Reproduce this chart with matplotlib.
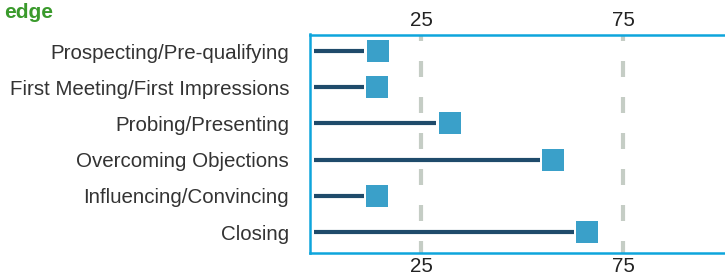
import matplotlib
matplotlib.use("Agg")
import matplotlib.pyplot as plt

categories = [
    "Prospecting/Pre-qualifying",
    "First Meeting/First Impressions",
    "Probing/Presenting",
    "Overcoming Objections",
    "Influencing/Convincing",
    "Closing",
]
values = [14.3, 14.2, 32.1, 57.7, 14.1, 66.2]
tick_values = [25, 75]
title_text = "edge"

plt.rcParams['font.family'] = ['Liberation Sans', 'DejaVu Sans']

W, H = 725, 278
fig = plt.figure(figsize=(W / 100, H / 100), dpi=100)
ax = fig.add_axes([310 / W, 1 - 253 / H, 1 - 310 / W, (253 - 34.5) / H])

x_start = -1.6
gap = 3.3
ys = list(range(len(categories)))

for xv in tick_values:
    ax.axvline(xv, color="#c5cdc5", lw=3, linestyle=(0.96, (3.84, 4.8)), zorder=1)

ax.hlines(ys, x_start, [v - gap for v in values], color="#1f4b6b", lw=3, zorder=2)
ax.scatter(values, ys, marker="s", s=22 * 22 * 0.54, color="#3aa0c9", zorder=3, linewidths=0)

ax.set_xlim(-2.475, 100.25)
ax.set_ylim(5.58, -0.46)
ax.set_yticks(ys)
ax.set_yticklabels(categories, fontsize=14.8, color="#333333")
ax.set_xticks(tick_values)
ax.set_xticklabels([str(t) for t in tick_values], fontsize=14.8, color="#222222")
ax.tick_params(axis="y", length=0, pad=15)
ax.tick_params(axis="x", length=0, pad=3, top=True, labeltop=True, bottom=True, labelbottom=True)

for side in ["left", "top", "bottom"]:
    ax.spines[side].set_color("#0ea5dc")
    ax.spines[side].set_linewidth(1.8)
ax.spines["right"].set_visible(False)

fig.text(4 / W, 1 - 18 / H, title_text, color="#3a9a2c", fontsize=15, fontweight="bold",
         va="baseline", ha="left")

fig.savefig("out.png", dpi=100)
